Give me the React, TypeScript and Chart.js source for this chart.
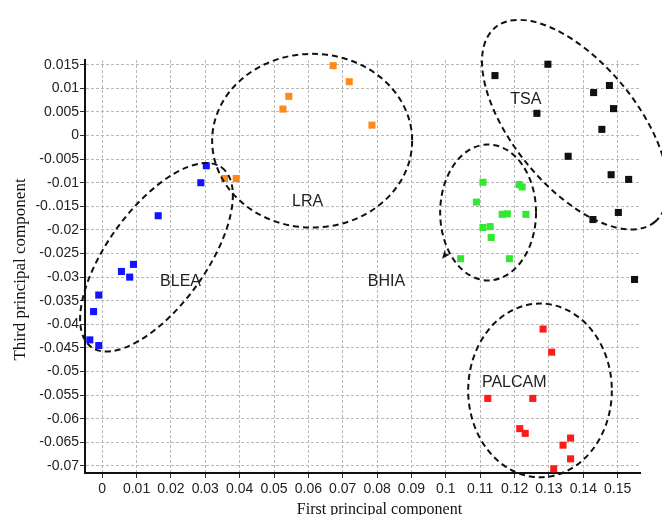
import React, { useEffect, useRef } from "react";
import { Chart, registerables } from "chart.js";

Chart.register(...registerables);

// ---- Data ----
const bleaX = [0.0303, 0.0287, 0.0163, 0.0091, 0.0056, 0.008, -0.001, -0.0025, -0.0036, -0.001];
const bleaY = [-0.0064, -0.01, -0.017, -0.0273, -0.0288, -0.03, -0.0338, -0.0373, -0.0433, -0.0445];

const lraX = [0.0672, 0.0719, 0.0543, 0.0526, 0.0785, 0.0356, 0.039];
const lraY = [0.0148, 0.0114, 0.0083, 0.0056, 0.0022, -0.0091, -0.0091];

const tsaX = [0.1297, 0.1143, 0.1476, 0.143, 0.1488, 0.1265, 0.1454, 0.1356, 0.1481, 0.1532, 0.1502, 0.1428, 0.1549];
const tsaY = [0.0151, 0.0127, 0.0106, 0.0091, 0.0057, 0.0047, 0.0013, -0.0044, -0.0083, -0.0093, -0.0163, -0.0178, -0.0305];

const bhiaX = [0.1108, 0.1213, 0.1222, 0.1089, 0.1164, 0.1179, 0.1233, 0.1108, 0.1129, 0.1132, 0.1043, 0.1185];
const bhiaY = [-0.0099, -0.0104, -0.0109, -0.0141, -0.0167, -0.0166, -0.0167, -0.0195, -0.0193, -0.0216, -0.0261, -0.0261];

const palcamX = [0.1283, 0.1308, 0.1122, 0.1253, 0.1215, 0.1231, 0.1363, 0.1341, 0.1363, 0.1314];
const palcamY = [-0.041, -0.0459, -0.0557, -0.0557, -0.0621, -0.0631, -0.0641, -0.0656, -0.0685, -0.0706];

const xTickValues = [0, 0.01, 0.02, 0.03, 0.04, 0.05, 0.06, 0.07, 0.08, 0.09, 0.1, 0.11, 0.12, 0.13, 0.14, 0.15];
const xTickLabels = ["0", "0.01", "0.02", "0.03", "0.04", "0.05", "0.06", "0.07", "0.08", "0.09", "0.1", "0.11", "0.12", "0.13", "0.14", "0.15"];

const yTickValues = [0.015, 0.01, 0.005, 0, -0.005, -0.01, -0.015, -0.02, -0.025, -0.03, -0.035, -0.04, -0.045, -0.05, -0.055, -0.06, -0.065, -0.07];
const yTickLabels = ["0.015", "0.01", "0.005", "0", "-0.005", "-0.01", "-0..015", "-0.02", "-0.025", "-0.03", "-0.035", "-0.04", "-0.045", "-0.05", "-0.055", "-0.06", "-0.065", "-0.07"];

// group names, label anchors (data units)
const groupNames = ["BLEA", "LRA", "BHIA", "TSA", "PALCAM"];
const groupLabelX = [0.0228, 0.0598, 0.0827, 0.1233, 0.1199];
const groupLabelY = [-0.0309, -0.0141, -0.0309, 0.0076, -0.0523];

// ellipses around groups (centre and semi-axes in data units, rotation in degrees)
const ellipseCX = [0.0158, 0.0611, 0.1123, 0.1376, 0.1274];
const ellipseCY = [-0.0258, -0.0011, -0.0163, 0.0023, -0.054];
const ellipseRX = [0.0323, 0.0291, 0.01395, 0.0366, 0.0209];
const ellipseRY = [0.0104, 0.0184, 0.0144, 0.0131, 0.0184];
const ellipseRot = [-54, 0, 0, 50.6, 0];

// arrow head on the BHIA ellipse
const arrowX = 0.0989;
const arrowY = -0.0261;

const toPoints = (xs: number[], ys: number[]) => xs.map((x, i) => ({ x, y: ys[i] }));

const annotPlugin = {
  id: "annot",
  afterDatasetsDraw(chart: any) {
    const { ctx, scales } = chart;
    const xs = scales.x;
    const ys = scales.y;
    ctx.save();
    // ellipses
    ctx.strokeStyle = "#111";
    ctx.lineWidth = 2;
    ctx.setLineDash([6, 4]);
    for (let i = 0; i < ellipseCX.length; i++) {
      const px = xs.getPixelForValue(ellipseCX[i]);
      const py = ys.getPixelForValue(ellipseCY[i]);
      const a = Math.abs(xs.getPixelForValue(ellipseCX[i] + ellipseRX[i]) - px);
      const b = Math.abs(ys.getPixelForValue(ellipseCY[i] - ellipseRY[i]) - py);
      ctx.beginPath();
      ctx.ellipse(px, py, a, b, (ellipseRot[i] * Math.PI) / 180, 0, Math.PI * 2);
      ctx.stroke();
    }
    ctx.setLineDash([]);
    // arrow head
    const ax = xs.getPixelForValue(arrowX);
    const ay = ys.getPixelForValue(arrowY);
    const ang = Math.atan2(30, -25);
    ctx.fillStyle = "#111";
    ctx.beginPath();
    ctx.moveTo(ax, ay);
    ctx.lineTo(ax - 9 * Math.cos(ang - 0.4), ay - 9 * Math.sin(ang - 0.4));
    ctx.lineTo(ax - 6 * Math.cos(ang), ay - 6 * Math.sin(ang));
    ctx.lineTo(ax - 9 * Math.cos(ang + 0.4), ay - 9 * Math.sin(ang + 0.4));
    ctx.closePath();
    ctx.fill();
    // group labels
    ctx.fillStyle = "#222";
    ctx.font = '16px "Liberation Sans", Arial, sans-serif';
    ctx.textAlign = "center";
    ctx.textBaseline = "middle";
    for (let i = 0; i < groupNames.length; i++) {
      ctx.fillText(groupNames[i], xs.getPixelForValue(groupLabelX[i]), ys.getPixelForValue(groupLabelY[i]));
    }
    ctx.restore();
  },
  afterDraw(chart: any) {
    const { ctx, chartArea } = chart;
    ctx.save();
    ctx.fillStyle = "#111";
    ctx.textAlign = "center";
    ctx.textBaseline = "alphabetic";
    ctx.font = '16px "Liberation Serif", "Times New Roman", serif';
    ctx.fillText("First principal component", (chartArea.left + chartArea.right) / 2 + 17, 514);
    ctx.font = '17px "Liberation Serif", "Times New Roman", serif';
    ctx.translate(25, (chartArea.top + chartArea.bottom) / 2 + 3);
    ctx.rotate(-Math.PI / 2);
    ctx.fillText("Third principal component", 0, 0);
    ctx.restore();
  },
};

const tickFont = { family: '"Liberation Sans", Arial, sans-serif', size: 14 };

const gridOpts = {
  color: "#b8b8b8",
  lineWidth: 1,
  drawTicks: true,
  tickLength: 5,
  tickColor: "#333",
  tickWidth: 1,
  tickBorderDash: [],
};

export default function App() {
  const ref = useRef<HTMLCanvasElement>(null);
  useEffect(() => {
    if (!ref.current) return;
    const mk = (label: string, xs: number[], ys: number[], color: string) => ({
      label,
      data: toPoints(xs, ys),
      pointStyle: "rect",
      pointRadius: 5,
      pointBackgroundColor: color,
      pointBorderWidth: 0,
      backgroundColor: color,
      borderColor: color,
      showLine: false,
    });
    const chart = new Chart(ref.current, {
      type: "scatter",
      data: {
        datasets: [
          mk("BLEA", bleaX, bleaY, "#1414ff"),
          mk("LRA", lraX, lraY, "#ff8a1c"),
          mk("TSA", tsaX, tsaY, "#111111"),
          mk("BHIA", bhiaX, bhiaY, "#33e833"),
          mk("PALCAM", palcamX, palcamY, "#ff1a1a"),
        ] as any,
      },
      options: {
        responsive: false,
        animation: false,
        layout: { padding: { top: 60, right: 22, left: 0, bottom: 0 } },
        plugins: { legend: { display: false }, tooltip: { enabled: false } },
        scales: {
          x: {
            type: "linear",
            min: -0.005,
            max: 0.1565,
            afterBuildTicks: (s: any) => {
              s.ticks = xTickValues.map((v) => ({ value: v }));
            },
            afterFit: (s: any) => {
              s.height = 42;
            },
            grid: gridOpts,
            border: { display: true, color: "#111", width: 2, dash: [3, 2] },
            ticks: {
              autoSkip: false,
              maxRotation: 0,
              minRotation: 0,
              padding: 3,
              color: "#222",
              font: tickFont,
              callback: (_v: any, i: number) => xTickLabels[i],
            },
          },
          y: {
            type: "linear",
            min: -0.0715,
            max: 0.016,
            afterBuildTicks: (s: any) => {
              s.ticks = yTickValues.map((v) => ({ value: v }));
            },
            afterFit: (s: any) => {
              s.width = 85;
            },
            grid: gridOpts,
            border: { display: true, color: "#111", width: 2, dash: [3, 2] },
            ticks: {
              autoSkip: false,
              padding: 1,
              color: "#222",
              font: tickFont,
              callback: (_v: any, i: number) => yTickLabels[i],
            },
          },
        },
      } as any,
      plugins: [annotPlugin],
    });
    return () => chart.destroy();
  }, []);
  return (
    <div style={{ position: "absolute", left: 0, top: 0, width: 662, height: 515, background: "#fff" }}>
      <canvas ref={ref} width={662} height={515} style={{ display: "block", width: 662, height: 515 }} />
    </div>
  );
}
